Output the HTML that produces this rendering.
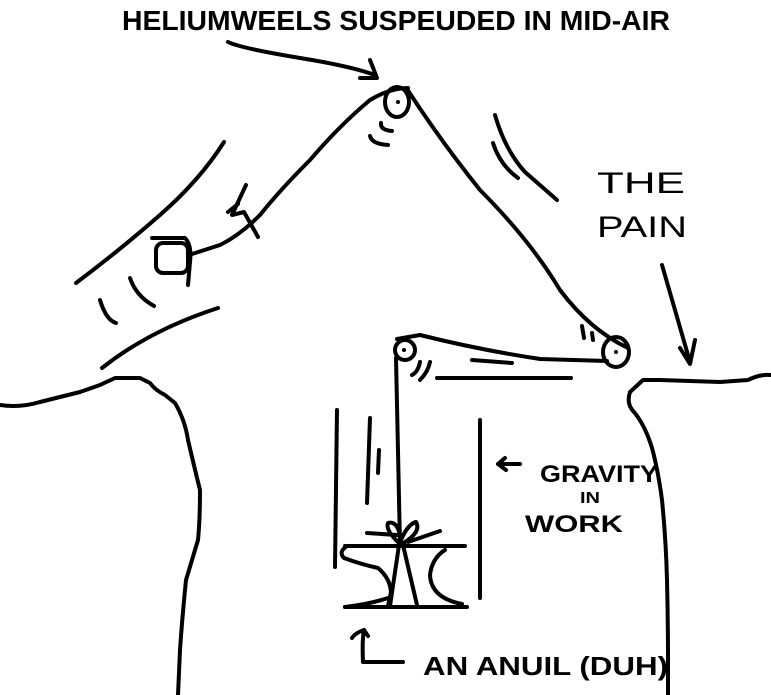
<!DOCTYPE html>
<html><head><meta charset="utf-8"><style>
html,body{margin:0;padding:0;background:#fff;width:771px;height:695px;overflow:hidden}
svg{display:block}
text{font-family:"Liberation Sans",sans-serif;font-weight:bold;fill:#000}
</style></head><body>
<svg width="771" height="695" viewBox="0 0 771 695" xmlns="http://www.w3.org/2000/svg">
<g fill="none" stroke="#000" stroke-width="4" stroke-linecap="round" stroke-linejoin="round">
<path d="M228 42 Q240 48 300 58 Q350 66 375 75"/>
<path d="M360 78 L377 78 L370 60"/>
<ellipse cx="397" cy="102" rx="12" ry="15"/>
<path d="M408 88 Q390 88 370 100 Q340 125 310 160 Q280 190 260 215 Q240 235 220 245 L192 254"/>
<path d="M246 185 L232 215 L244 212 L258 237"/>
<path d="M228 212 L238 204"/>
<path d="M407 89 Q440 140 480 190 Q530 240 560 290 Q590 330 628 348"/>
<rect x="156" y="243" width="32" height="30" rx="7"/>
<path d="M152 238 L185 238 Q192 245 190 262 L188 285"/>
<path d="M76 283 Q120 250 160 215 Q200 180 224 142"/>
<path d="M102 368 Q150 330 218 308"/>
<path d="M100 300 Q106 320 116 323"/>
<path d="M130 278 Q136 296 154 306"/>
<path d="M381 123 Q380 130 392 131"/>
<path d="M370 136 Q372 144 388 145"/>
<path d="M495 115 Q505 150 525 172 L557 200"/>
<path d="M493 143 Q500 165 518 178"/>
<path d="M662 265 Q678 320 690 362"/>
<path d="M680 348 L690 364 L695 340"/>
<circle cx="405" cy="350" r="10"/>
<path d="M397 339 L420 335 Q480 350 540 359 L607 361"/>
<path d="M437 378 L571 378"/>
<path d="M472 360 L512 363"/>
<path d="M420 362 Q418 372 412 375"/>
<path d="M430 362 Q428 372 420 380"/>
<ellipse cx="616" cy="352" rx="13" ry="15"/>
<path d="M582 326 L584 338 M592 333 L593 340"/>
<path d="M0 405 Q20 408 40 402 L80 392 L100 385 L115 378 L140 378 L150 383 Q155 390 165 395 L175 403 Q185 420 188 440 Q195 470 200 490 Q200 520 198 540 Q192 560 186 580 Q182 620 180 650 L178 695"/>
<path d="M771 375 Q760 374 748 380 L720 382 L690 381 L660 380 L643 380 L630 392 Q626 404 634 412 Q645 425 652 448 Q658 470 662 500 Q666 540 667 580 Q668 620 668 660 L668 695"/>
<path d="M337 410 L335 567"/>
<path d="M370 418 L367 503"/>
<path d="M379 450 L378 473"/>
<path d="M480 420 L480 598"/>
<path d="M396 358 L400 545"/>
<path d="M345 546 L465 546"/>
<path d="M347 546 Q338 552 344 558 Q360 564 378 568 Q390 578 391 592 L388 606"/>
<path d="M345 607 Q370 604 388 598"/>
<path d="M345 607 L467 607"/>
<path d="M445 550 Q432 558 430 575 Q431 598 462 604"/>
<path d="M399 545 L390 606 M403 545 L417 605"/>
<path d="M400 544 Q385 530 388 523 Q398 520 401 540 Q408 524 416 522 Q422 532 402 544"/>
<path d="M367 533 L397 535"/>
<path d="M408 542 L440 531"/>
<path d="M520 464 L498 464 M505 458 L498 464 L506 470"/>
<path d="M363 662 Q362 640 364 630 Q355 633 352 638"/>
<path d="M364 630 L368 636"/>
<path d="M364 662 L403 662"/>
</g>
<g fill="#000">
<circle cx="398" cy="102" r="2"/>
<circle cx="404" cy="350" r="2"/>
<circle cx="616" cy="352" r="2"/>
</g>
<text x="122" y="30" font-size="28" textLength="548" lengthAdjust="spacingAndGlyphs">HELIUMWEELS SUSPEUDED IN MID-AIR</text>
<text x="597" y="193" font-size="30" textLength="88" lengthAdjust="spacingAndGlyphs" style="font-weight:normal">THE</text>
<text x="597" y="237" font-size="30" textLength="90" lengthAdjust="spacingAndGlyphs" style="font-weight:normal">PAIN</text>
<text x="540" y="482" font-size="24" textLength="118" lengthAdjust="spacingAndGlyphs">GRAVITY</text>
<text x="580" y="503" font-size="16" textLength="20" lengthAdjust="spacingAndGlyphs">IN</text>
<text x="525" y="532" font-size="24" textLength="98" lengthAdjust="spacingAndGlyphs">WORK</text>
<text x="423" y="675" font-size="26" textLength="245" lengthAdjust="spacingAndGlyphs">AN ANUIL (DUH)</text>
</svg>
</body></html>
